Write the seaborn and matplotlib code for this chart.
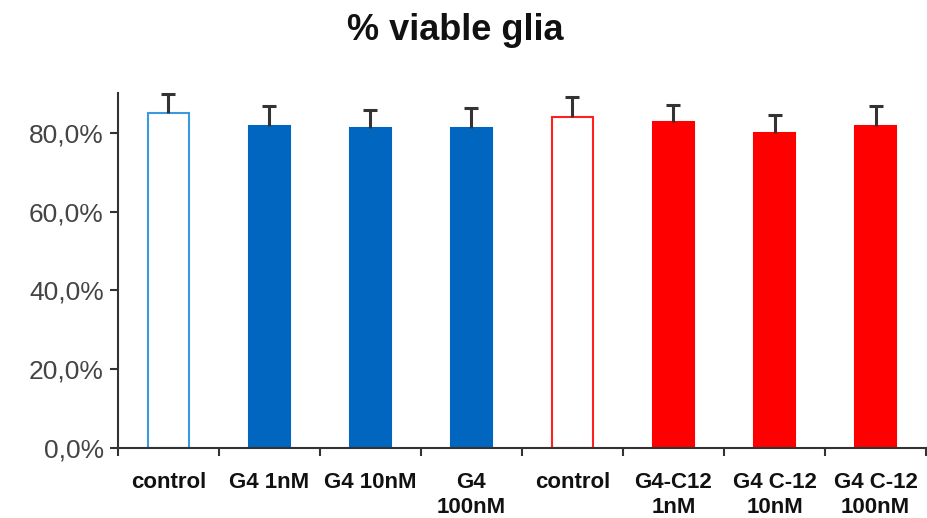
import matplotlib
matplotlib.use("Agg")
import matplotlib.pyplot as plt
import seaborn as sns
import numpy as np
import pandas as pd
from matplotlib.ticker import FuncFormatter, FixedLocator

labels = ["control", "G4 1nM", "G4 10nM", "G4\n100nM", "control",
          "G4-C12\n1nM", "G4 C-12\n10nM", "G4 C-12\n100nM"]
values = [85.0, 81.8, 81.3, 81.3, 84.1, 82.7, 79.9, 81.8]
errors = [4.9, 5.0, 4.4, 4.9, 4.9, 4.4, 4.6, 5.0]
fills = ["#FFFFFF", "#0066C0", "#0066C0", "#0066C0",
         "#FFFFFF", "#FF0000", "#FF0000", "#FF0000"]
edges = ["#3A9AE0", "#0066C0", "#0066C0", "#0066C0",
         "#FF2020", "#FF0000", "#FF0000", "#FF0000"]

sns.set_theme(style="white")
plt.rcParams['font.family'] = ['Liberation Sans', 'DejaVu Sans']

keys = [f"k{i}" for i in range(len(labels))]
df = pd.DataFrame({"key": keys, "value": values})

fig = plt.figure(figsize=(9.27, 5.18), dpi=100)
ax = fig.add_axes([0.127, 0.135, 0.872, 0.685])

sns.barplot(data=df, x="key", y="value", order=keys, hue="key",
            palette=dict(zip(keys, fills)), legend=False, width=0.41,
            saturation=1, ax=ax, errorbar=None)
for patch, ec in zip(ax.patches, edges):
    patch.set_edgecolor(ec)
    patch.set_linewidth(1.5)

x = np.arange(len(values))
eb = ax.errorbar(x, values, yerr=[np.zeros(len(errors)), errors], fmt="none",
                 ecolor="#333333", elinewidth=2.2, capsize=5, capthick=2.2,
                 zorder=3)
caplines = eb[1]
if len(caplines) == 2:
    caplines[0].set_visible(False)

ax.set_ylim(0, 90)
ax.set_xlim(-0.5, len(values) - 0.5)
ax.set_yticks([0, 20, 40, 60, 80])
ax.yaxis.set_major_formatter(FuncFormatter(lambda v, p: f"{v:.1f}%".replace(".", ",")))
ax.tick_params(axis="y", labelsize=19, labelcolor="#444444", length=6,
               width=1.5, color="#333333", left=True, direction="out", pad=4)

ax.set_xticks(x)
ax.set_xticklabels(labels, fontweight="bold", fontsize=16, color="#111111",
                   linespacing=1.28)
ax.tick_params(axis="x", length=0, pad=17)
ax.xaxis.set_minor_locator(FixedLocator(np.arange(len(values) + 1) - 0.5))
ax.tick_params(axis="x", which="minor", length=6, width=1.5, color="#333333",
               bottom=True, direction="out")

ax.set_xlabel("")
ax.set_ylabel("")
for s in ["top", "right"]:
    ax.spines[s].set_visible(False)
for s in ["left", "bottom"]:
    ax.spines[s].set_color("#333333")
    ax.spines[s].set_linewidth(1.5)

fig.text(0.491, 0.942, "% viable glia", ha="center", va="center",
         fontsize=26, fontweight="bold", color="#111111")

fig.savefig("out.png", dpi=100)
